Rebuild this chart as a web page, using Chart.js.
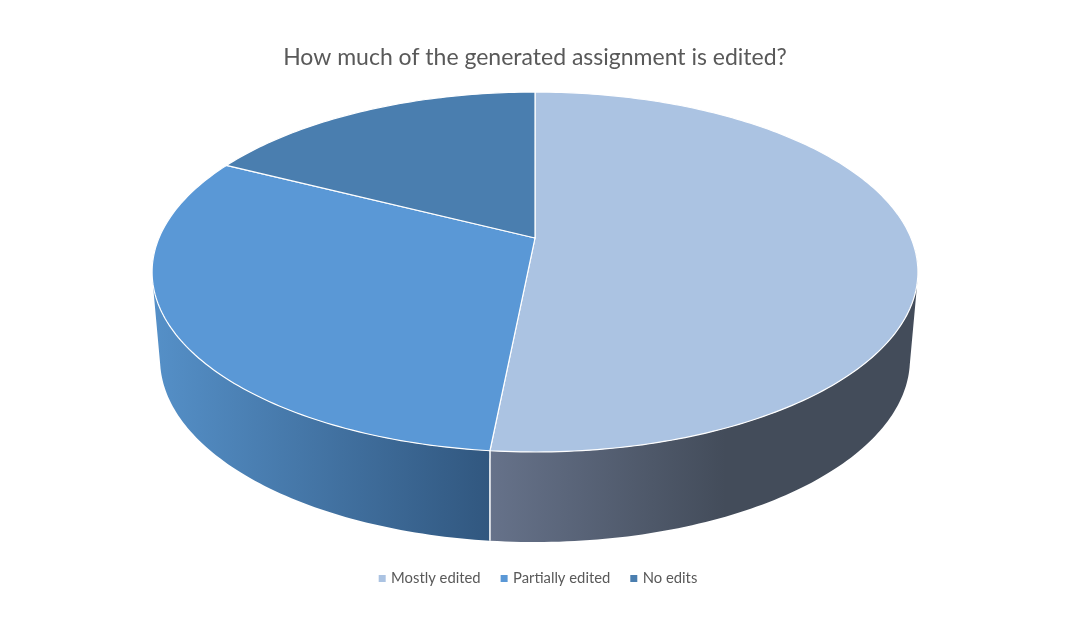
<!DOCTYPE html>
<html>
<head>
<meta charset="utf-8">
<style>
  html, body { margin: 0; padding: 0; background: #fff; }
  canvas { display: block; }
</style>
<script src="https://cdn.jsdelivr.net/npm/chart.js@4"></script>
</head>
<body>
<canvas id="pie-chart" width="1070" height="629"></canvas>
<script>
const categories = ['Mostly edited', 'Partially edited', 'No edits'];
const shares = [51.55, 30.95, 17.5];
const topColors = ['#abc3e2', '#5a98d6', '#4a7eaf'];
const wallLeftColors = ['#66728a', '#5590c8', '#4a7eaf'];
const wallRightColors = ['#434c5a', '#31577f', '#31577f'];

// perspective of the pie: cy = where the centre lands, w = tilt
const topFace = { cy: 238, a: 376, b: -128.6, w: 0.1889 };
const bottomFace = { cy: 320.6, a: 366.6, b: -107.6, w: 0.21 };

function project(face, cx, angle) {
    const t = angle + Math.PI / 2;
    const d = 1 + face.w * Math.cos(t);
    return [cx + face.a * Math.sin(t) / d, (face.b * Math.cos(t) + face.cy) / d];
}

function arcPoints(face, cx, from, to) {
    const pts = [];
    const n = Math.max(2, Math.ceil(Math.abs(to - from) * 60));
    for (let i = 0; i <= n; i++) {
        pts.push(project(face, cx, from + (to - from) * i / n));
    }
    return pts;
}

function addQuad(ctx, q) {
    // same winding for every quad, so a single nonzero fill leaves no seams
    let area = 0;
    q.forEach((p, i) => {
        const r = q[(i + 1) % 4];
        area += p[0] * r[1] - r[0] * p[1];
    });
    const pts = area < 0 ? q.slice().reverse() : q;
    ctx.moveTo(pts[0][0], pts[0][1]);
    pts.slice(1).forEach(p => ctx.lineTo(p[0], p[1]));
    ctx.closePath();
}

const tiltedPie = {
    id: 'tiltedPie',
    afterLayout(chart) {
        // legend sits a little right of centre in the original
        chart.legend.left += 4;
        chart.legend.right += 4;
    },
    beforeDatasetDraw(chart, args) {
        const ctx = chart.ctx;
        const arcs = chart.getDatasetMeta(args.index).data;
        ctx.save();
        ctx.lineJoin = 'round';

        // side wall first, the top face covers the hidden part
        arcs.forEach((arc, i) => {
            const cx = arc.x;
            const top = arcPoints(topFace, cx, arc.startAngle, arc.endAngle);
            const bottom = arcPoints(bottomFace, cx, arc.startAngle, arc.endAngle);
            const xs = top.concat(bottom).map(p => p[0]);
            const grad = ctx.createLinearGradient(Math.min(...xs), 0, Math.max(...xs), 0);
            if (i === 0) {
                grad.addColorStop(0, wallLeftColors[i]);
                grad.addColorStop(0.55, wallRightColors[i]);
                grad.addColorStop(1, wallRightColors[i]);
            } else {
                grad.addColorStop(0, wallLeftColors[i]);
                grad.addColorStop(1, wallRightColors[i]);
            }
            ctx.beginPath();
            for (let k = 0; k < top.length - 1; k++) {
                // the back of the wall never shows
                if (top[k][1] < 250 && top[k + 1][1] < 250) continue;
                addQuad(ctx, [top[k], top[k + 1], bottom[k + 1], bottom[k]]);
            }
            ctx.fillStyle = grad;
            ctx.fill();
        });

        // white seam on the front edge between the two walls
        const seam = arcs[0].endAngle;
        const a = project(topFace, arcs[0].x, seam);
        const b = project(bottomFace, arcs[0].x, seam);
        ctx.beginPath();
        ctx.moveTo(a[0], a[1]);
        ctx.lineTo(b[0], b[1]);
        ctx.strokeStyle = '#ffffff';
        ctx.lineWidth = 1.5;
        ctx.stroke();

        // top face
        arcs.forEach(arc => {
            const cx = arc.x;
            const pts = arcPoints(topFace, cx, arc.startAngle, arc.endAngle);
            ctx.beginPath();
            ctx.moveTo(cx, topFace.cy);
            pts.forEach(p => ctx.lineTo(p[0], p[1]));
            ctx.closePath();
            ctx.fillStyle = arc.options.backgroundColor;
            ctx.fill();
            ctx.strokeStyle = '#ffffff';
            ctx.lineWidth = 1.2;
            ctx.stroke();
        });
        ctx.restore();
        return false;
    }
};

new Chart(document.getElementById('pie-chart'), {
    type: 'pie',
    data: {
        labels: categories,
        datasets: [{ data: shares, backgroundColor: topColors, borderWidth: 0 }]
    },
    options: {
        responsive: false,
        animation: false,
        devicePixelRatio: 1,
        plugins: {
            title: {
                display: true,
                text: 'How much of the generated assignment is edited?',
                color: '#595959',
                font: { family: 'Lato', size: 23, weight: 'normal' },
                padding: { top: 44, bottom: 10 }
            },
            legend: {
                position: 'bottom',
                labels: {
                    color: '#595959',
                    font: { family: 'Lato', size: 14.8 },
                    usePointStyle: true,
                    pointStyle: 'rect',
                    boxWidth: 3,
                    boxHeight: 7,
                    padding: 22
                }
            },
            tooltip: { enabled: false }
        },
        layout: { padding: { bottom: 33 } }
    },
    plugins: [tiltedPie]
});
</script>
</body>
</html>
